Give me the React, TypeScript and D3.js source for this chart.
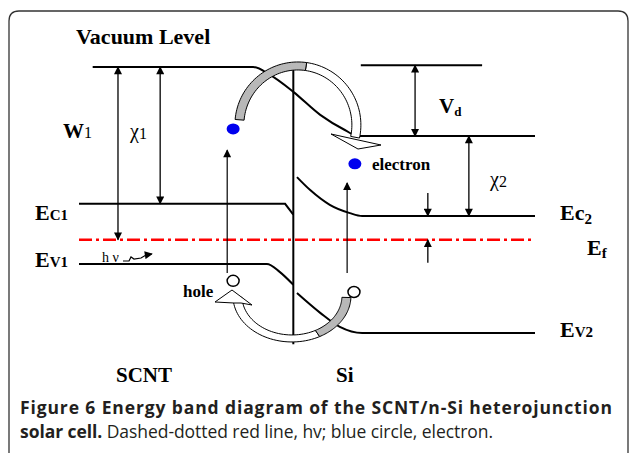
import * as d3 from "d3";

// position along the device (0..100, junction at 47), energy in eV below vacuum
const junctionX = 47;
const junctionSpan: [number, number] = [0.1, -7.7];

const vacuumLevel: [number, number][] = [
  [3, 0], [38.2, 0], [41.9, -0.22], [47, -0.69], [52.9, -1.33], [58.3, -1.75], [61.2, -1.92], [100, -1.92],
];
const vacuumRef: [number, number][] = [[61.8, 0.05], [88.4, 0.05]];
const ec1: [number, number][] = [[0, -3.8], [45.2, -3.8], [47, -4.1]];
const ev1: [number, number][] = [[0, -5.47], [41.2, -5.47], [44, -5.69], [47, -6.05]];
const ec2: [number, number][] = [[47.8, -3.06], [50.7, -3.42], [55, -3.83], [59.4, -4.06], [62.1, -4.14], [100, -4.14]];
const ev2: [number, number][] = [[47.8, -6.28], [52.9, -6.83], [57.2, -7.22], [62.1, -7.39], [100, -7.39]];
const fermi: [number, number][] = [[0, -4.8], [100, -4.8]];

// vertical energy arrows: x, from, to, double headed?
const gaps: [number, number, number, boolean][] = [
  [8.55, 0, -4.8, true],     // W1
  [17.8, 0, -3.8, true],     // chi1
  [73.7, 0.05, -1.92, true], // Vd
  [85.5, -1.92, -4.14, true],// chi2
  [76.5, -3.5, -4.14, false],
  [76.5, -5.44, -4.8, false],
];
const excitations: [number, number, number][] = [
  [32.5, -5.72, -2.31],
  [58.8, -5.72, -3.22],
];
const electrons: [number, number][] = [[33.8, -1.72], [60.5, -2.69]];
const holes: [number, number][] = [[33.8, -5.94], [60.3, -6.25]];

const W = 629;
const H = 453;
const x = d3.scaleLinear().domain([0, 100]).range([79, 535]);
const y = d3.scaleLinear().domain([0, -6]).range([67, 283]);

const straight = d3.line<[number, number]>().x((d) => x(d[0])).y((d) => y(d[1]));
const smooth = d3
  .line<[number, number]>()
  .x((d) => x(d[0]))
  .y((d) => y(d[1]))
  .curve(d3.curveMonotoneX);

// curved "ribbon" arrow band between two ellipses
function ribbon(cx: number, cy: number, ro: number[], ri: number[], a0: number, a1: number) {
  const n = 40;
  const ts = d3.range(n + 1).map((i) => ((a0 + ((a1 - a0) * i) / n) * Math.PI) / 180);
  const outer = ts.map((t) => [cx + ro[0] * Math.cos(t), cy + ro[1] * Math.sin(t)] as [number, number]);
  const inner = ts.map((t) => [cx + ri[0] * Math.cos(t), cy + ri[1] * Math.sin(t)] as [number, number]).reverse();
  return d3.line()([...outer, ...inner]) + "Z";
}

const serif = "'Liberation Serif', 'Times New Roman', serif";
const sans = "'Open Sans', 'Noto Sans', sans-serif";

export default function App() {
  const upC = [x(48), y(-1.61)];
  const loC = [x(46.7), y(-6.36)];
  return (
    <svg width={W} height={H} style={{ position: "absolute", left: 0, top: 0, background: "#fff" }}>
      <defs>
        <marker id="ah" viewBox="0 0 10 10" refX="9" refY="5" markerWidth="9" markerHeight="8"
          markerUnits="userSpaceOnUse" orient="auto-start-reverse">
          <path d="M0,0L10,5L0,10z" fill="#000" />
        </marker>
      </defs>

      <path d="M9,453 L9,21 Q9,11 19,11 L618,11 Q628,11 628,21 L628,453" fill="none" stroke="#333" strokeWidth={1.3} />

      {/* bands */}
      <path d={smooth(vacuumLevel)!} fill="none" stroke="#000" strokeWidth={2} />
      <path d={straight(vacuumRef)!} fill="none" stroke="#000" strokeWidth={2} />
      <path d={straight(ec1)!} fill="none" stroke="#000" strokeWidth={2} />
      <path d={smooth(ev1)!} fill="none" stroke="#000" strokeWidth={2} />
      <path d={smooth(ec2)!} fill="none" stroke="#000" strokeWidth={2} />
      <path d={smooth(ev2)!} fill="none" stroke="#000" strokeWidth={2} />
      <path d={straight(fermi)!} fill="none" stroke="#f00" strokeWidth={2.6} strokeDasharray="13,4,3,4" />
      <line x1={x(junctionX)} x2={x(junctionX)} y1={y(junctionSpan[0])} y2={y(junctionSpan[1])} stroke="#000" strokeWidth={2} />

      {gaps.map(([gx, a, b, both], i) => (
        <line key={i} x1={x(gx)} x2={x(gx)} y1={y(a)} y2={y(b)} stroke="#000" strokeWidth={1.3}
          markerStart={both ? "url(#ah)" : undefined} markerEnd="url(#ah)" />
      ))}
      {excitations.map(([gx, a, b], i) => (
        <line key={i} x1={x(gx)} x2={x(gx)} y1={y(a)} y2={y(b)} stroke="#000" strokeWidth={1.2} markerEnd="url(#ah)" />
      ))}

      {/* curved transfer arrows */}
      <polygon points="331,134 381,145 358,149" fill="#fff" stroke="#000" strokeWidth={1} />
      <path d={ribbon(upC[0], upC[1], [63, 63], [54, 55], 278, 372)} fill="#fff" stroke="#000" strokeWidth={1} />
      <path d={ribbon(upC[0], upC[1], [63, 63], [54, 55], 185, 278)} fill="#b8b8b8" stroke="#000" strokeWidth={1} />
      <path d={ribbon(loC[0], loC[1], [59, 46], [50, 39], 62, 178)} fill="#fff" stroke="#000" strokeWidth={1} />
      <path d={ribbon(loC[0], loC[1], [59, 46], [50, 39], 2, 62)} fill="#b8b8b8" stroke="#000" strokeWidth={1} />
      <polygon points="215,302 232,290 252,305 241,303 234,303" fill="#fff" stroke="#000" strokeWidth={1} />

      {electrons.map(([ex, ey], i) => (
        <ellipse key={i} cx={x(ex)} cy={y(ey)} rx={6.5} ry={5.5} fill="#0000ee" />
      ))}
      {holes.map(([hx, hy], i) => (
        <ellipse key={i} cx={x(hx)} cy={y(hy)} rx={6} ry={5.5} fill="#fff" stroke="#000" strokeWidth={1.5} />
      ))}

      {/* photon */}
      <path d="M123,261 L129,261 L131,257 L134,259 L141,258 L146,255 L152,254" fill="none" stroke="#000" strokeWidth={1.2} markerEnd="url(#ah)" />

      <g fontFamily={serif} fill="#000">
        <text x={76} y={44} fontSize={22} fontWeight="bold">Vacuum Level</text>
        <text x={63} y={138} fontSize={21} fontWeight="bold">W<tspan fontSize={16} fontWeight="normal">1</tspan></text>
        <text x={130} y={138} fontSize={20}>χ<tspan fontSize={16} dy={1}>1</tspan></text>
        <text x={439} y={113} fontSize={21} fontWeight="bold">V<tspan fontSize={13} dy={3}>d</tspan></text>
        <text x={490} y={186} fontSize={20}>χ<tspan fontSize={16} dy={1}>2</tspan></text>
        <text x={35} y={220} fontSize={22} fontWeight="bold">E<tspan fontSize={15}>C1</tspan></text>
        <text x={35} y={267} fontSize={22} fontWeight="bold">E<tspan fontSize={15}>V1</tspan></text>
        <text x={560} y={220} fontSize={22} fontWeight="bold">Ec<tspan fontSize={15} dy={4}>2</tspan></text>
        <text x={587} y={255} fontSize={22} fontWeight="bold">E<tspan fontSize={15} dy={3}>f</tspan></text>
        <text x={560} y={337} fontSize={22} fontWeight="bold">E<tspan fontSize={15}>V2</tspan></text>
        <text x={102} y={262} fontSize={14}>h ν</text>
        <text x={372} y={170} fontSize={17} fontWeight="bold">electron</text>
        <text x={183} y={297} fontSize={17} fontWeight="bold">hole</text>
        <text x={116} y={382} fontSize={21} fontWeight="bold">SCNT</text>
        <text x={336} y={382} fontSize={21} fontWeight="bold">Si</text>
      </g>

      <g fontFamily={sans} fill="#231f20" fontSize={17.5}>
        <text x={20} y={414} fontWeight="bold" textLength={592} lengthAdjust="spacing">
          Figure 6 Energy band diagram of the SCNT/n-Si heterojunction
        </text>
        <text x={20} y={438} textLength={473} lengthAdjust="spacing">
          <tspan fontWeight="bold">solar cell.</tspan> Dashed-dotted red line, hv; blue circle, electron.
        </text>
      </g>
    </svg>
  );
}
